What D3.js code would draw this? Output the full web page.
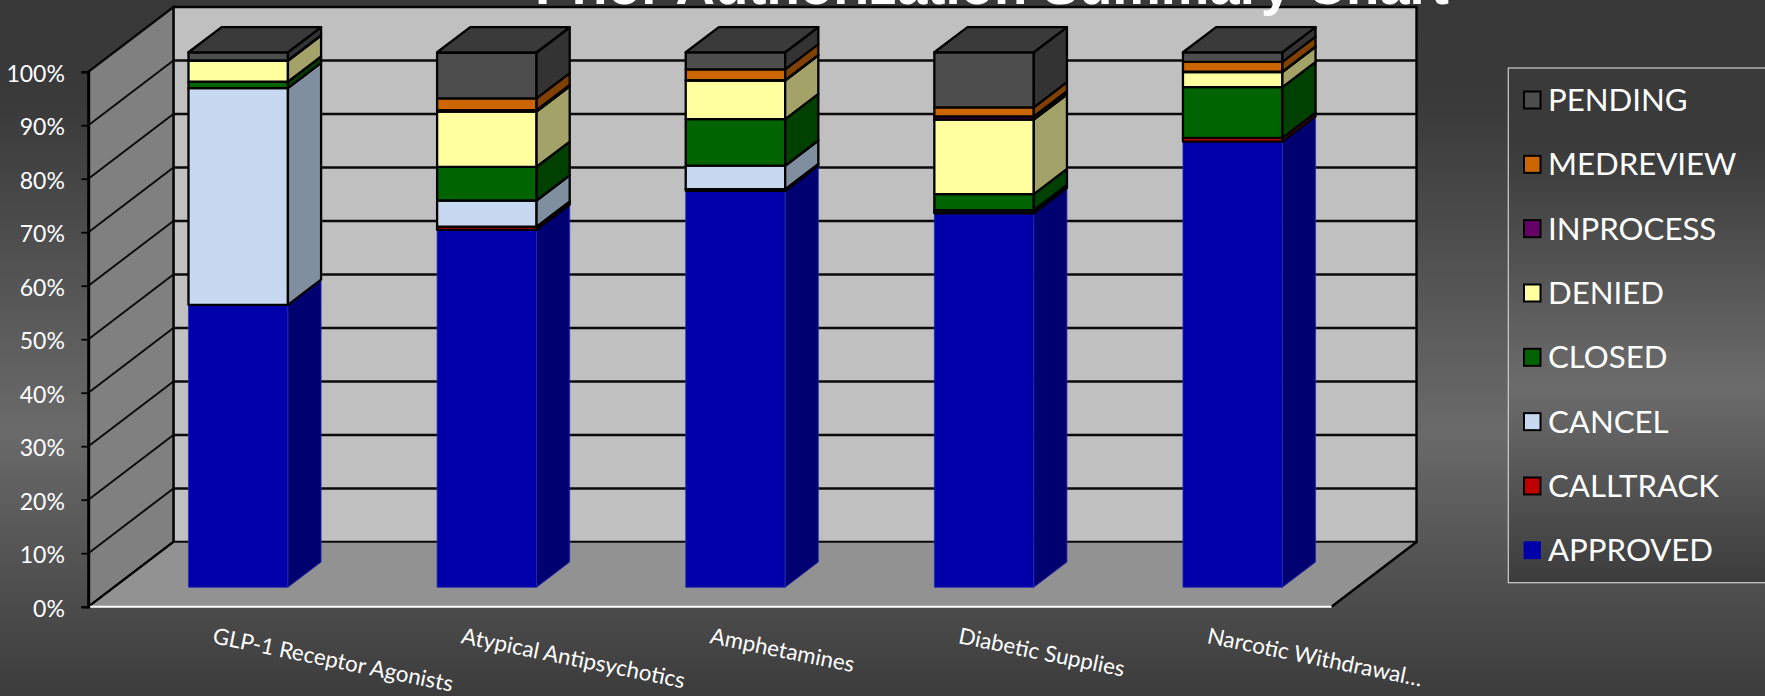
<!DOCTYPE html>
<html><head><meta charset="utf-8">
<script src="https://cdn.jsdelivr.net/npm/d3@7"></script>
<style>html,body{margin:0;padding:0;background:#3a3a3a;overflow:hidden}svg{display:block}</style>
</head><body><svg id="c" width="1765" height="696"></svg>
<script>
const title = "Prior Authorization Summary Chart";
const categories = ["GLP-1 Receptor Agonists","Atypical Antipsychotics","Amphetamines","Diabetic Supplies","Narcotic Withdrawal\u2026"];
const seriesNames = ["APPROVED","CALLTRACK","CANCEL","CLOSED","DENIED","INPROCESS","MEDREVIEW","PENDING"];
const APPROVED  = [52.8,66.8,74.1,69.9,83.3];
const CALLTRACK = [0,   0.6, 0.3, 0.2, 0.7];
const CANCEL    = [40.5,4.9, 4.4, 0.4, 0];
const CLOSED    = [1.2, 6.3, 8.7, 3.0, 9.5];
const DENIED    = [3.9,10.3, 7.2,13.9, 2.8];
const INPROCESS = [0,   0.3, 0.1, 0.6, 0.1];
const MEDREVIEW = [0.1, 2.2, 2.0, 1.7, 1.8];
const PENDING   = [1.5, 8.5, 3.2,10.3, 1.8];
const values = {APPROVED,CALLTRACK,CANCEL,CLOSED,DENIED,INPROCESS,MEDREVIEW,PENDING};
const frontColors = ["#0000aa","#c00000","#c6d9f1","#006400","#ffffa0","#660066","#cc6600","#4d4d4d"];
const sideColors  = ["#000070","#800000","#7f8f9f","#004000","#a3a369","#440044","#804000","#333333"];
const yTicks = [0,10,20,30,40,50,60,70,80,90,100];

const svg = d3.select("#c");
const defs = svg.append("defs");
function grad(id, stops){
  const g = defs.append("linearGradient").attr("id",id).attr("x1",0).attr("x2",0).attr("y1",0).attr("y2",1);
  stops.forEach(s=>g.append("stop").attr("offset",s[0]).attr("stop-color",s[1]));
}
grad("bg",[[0,"#383838"],[0.15,"#3a3a3a"],[0.5,"#5e5e5e"],[0.62,"#6a6a6a"],[0.9,"#484848"],[1,"#3c3c3c"]]);
grad("lg",[[0,"#3a3a3a"],[0.15,"#3a3a3a"],[0.62,"#6c6c6c"],[1,"#3c3c3c"]]);
svg.append("rect").attr("width",1765).attr("height",696).attr("fill","url(#bg)");

const X0=88.4, X1=1331.5, DX=85, DY=-64.7;
const x = d3.scaleBand().domain(categories).range([X0,X1]).paddingInner(0.6).paddingOuter(0.3);
const y = d3.scaleLinear().domain([0,100]).range([606.7,71.7]);
const P = (px,py,z)=>[px+DX*z, py+DY*z];
const poly = pts=>pts.map(p=>p.join(",")).join(" ");
const Z0=0.3, Z1=0.69;

// walls
const g = svg.append("g");
g.append("polygon").attr("points",poly([P(X0,y(0),1),P(X1,y(0),1),P(X1,y(100),1),P(X0,y(100),1)]))
  .attr("fill","#c0c0c0").attr("stroke","#000").attr("stroke-width",2.4);
g.append("polygon").attr("points",poly([P(X0,y(0),0),P(X0,y(0),1),P(X0,y(100),1),P(X0,y(100),0)]))
  .attr("fill","#808080").attr("stroke","#000").attr("stroke-width",2.2);
g.append("polygon").attr("points",poly([P(X0,y(0),0),P(X1,y(0),0),P(X1,y(0),1),P(X0,y(0),1)]))
  .attr("fill","#929292");
// grid
yTicks.forEach(t=>{
  const a=P(X0,y(t),0), b=P(X0,y(t),1), c=P(X1,y(t),1);
  if(t<100) g.append("line").attr("x1",b[0]).attr("y1",b[1]).attr("x2",c[0]).attr("y2",c[1]).attr("stroke","#0a0a0a").attr("stroke-width",t===0?1.4:2.4);
  g.append("line").attr("x1",a[0]).attr("y1",a[1]).attr("x2",b[0]).attr("y2",b[1]).attr("stroke","#0a0a0a").attr("stroke-width",1.9);
});
// edges
const fr=P(X1,y(0),0), br=P(X1,y(0),1), bb=P(X0,y(0),1);
g.append("line").attr("x1",fr[0]).attr("y1",fr[1]).attr("x2",br[0]).attr("y2",br[1]).attr("stroke","#000").attr("stroke-width",2.4);
g.append("line").attr("x1",X0).attr("y1",y(0)).attr("x2",bb[0]).attr("y2",bb[1]).attr("stroke","#000").attr("stroke-width",1.9);

// bars
const rows = categories.map((c,i)=>{const r={cat:c}; seriesNames.forEach(s=>r[s]=values[s][i]); return r;});
const stacked = d3.stack().keys(seriesNames)(rows);
categories.forEach((c,ci)=>{
  const bar = svg.append("g");
  const xa=x(c), xb=x(c)+x.bandwidth();
  stacked.forEach((s,si)=>{
    const d=s[ci]; if(d[1]-d[0]<=0) return;
    const yb=y(d[0]), yt=y(d[1]);
    const strokeC = si===0 ? "#2a2ab4" : "#000";
    const sw = si===0 ? 0.8 : 2.3;
    bar.append("polygon").attr("points",poly([P(xa,yb,Z0),P(xb,yb,Z0),P(xb,yt,Z0),P(xa,yt,Z0)]))
      .attr("fill",frontColors[si]).attr("stroke",strokeC).attr("stroke-width",sw).attr("stroke-linejoin","round");
    bar.append("polygon").attr("points",poly([P(xb,yb,Z0),P(xb,yb,Z1),P(xb,yt,Z1),P(xb,yt,Z0)]))
      .attr("fill",sideColors[si]).attr("stroke",strokeC).attr("stroke-width",sw).attr("stroke-linejoin","round");
  });
  const top=y(100);
  bar.append("polygon").attr("points",poly([P(xa,top,Z0),P(xb,top,Z0),P(xb,top,Z1),P(xa,top,Z1)]))
    .attr("fill","#3a3a3a").attr("stroke","#000").attr("stroke-width",2.3).attr("stroke-linejoin","round");
});

// front base line in white
svg.append("line").attr("x1",X0).attr("y1",y(0)).attr("x2",X1).attr("y2",y(0)).attr("stroke","#fff").attr("stroke-width",2);

// y axis
const axisG = svg.append("g").attr("transform",`translate(${X0},0)`)
  .call(d3.axisLeft(y).tickValues(yTicks).tickFormat(d=>d+"%").tickSize(7).tickPadding(16.5));
axisG.select(".domain").attr("stroke","#000").attr("stroke-width",2.6);
axisG.selectAll(".tick line").attr("stroke","#000").attr("stroke-width",1.8);
axisG.selectAll("text").attr("fill","#fff").attr("font-family","Lato").attr("font-size",23).attr("dy","0.42em");

// category labels
categories.forEach(c=>{
  const lx = x(c)+x.bandwidth()/2 - 1;
  svg.append("text").attr("transform",`translate(${lx},643) rotate(11.5)`)
    .attr("fill","#fff").attr("font-family","Lato").attr("font-size",22.3).text(c);
});

// legend
const lg = svg.append("g");
lg.append("rect").attr("x",1508.3).attr("y",68).attr("width",260).attr("height",514.7)
  .attr("fill","url(#lg)").attr("stroke","#cfcfcf").attr("stroke-width",1.2);
const ly = d3.scalePoint().domain(seriesNames.slice().reverse()).range([100,550.3]);
seriesNames.forEach((s,i)=>{
  const cy=ly(s);
  lg.append("rect").attr("x",1524).attr("y",cy-8.5).attr("width",16.5).attr("height",17)
    .attr("fill",frontColors[i]).attr("stroke",i===0?"#0000aa":"#000").attr("stroke-width",i===0?0.8:2);
  lg.append("text").attr("x",1548).attr("y",cy+11).attr("fill","#fff")
    .attr("font-family","Lato").attr("font-size",31.2).text(s);
});

// title
svg.append("text").attr("x",992).attr("y",4).attr("text-anchor","middle").attr("fill","#fff")
  .attr("font-family","Liberation Sans").attr("font-weight","bold").attr("font-size",54.6).text(title);
</script></body></html>
